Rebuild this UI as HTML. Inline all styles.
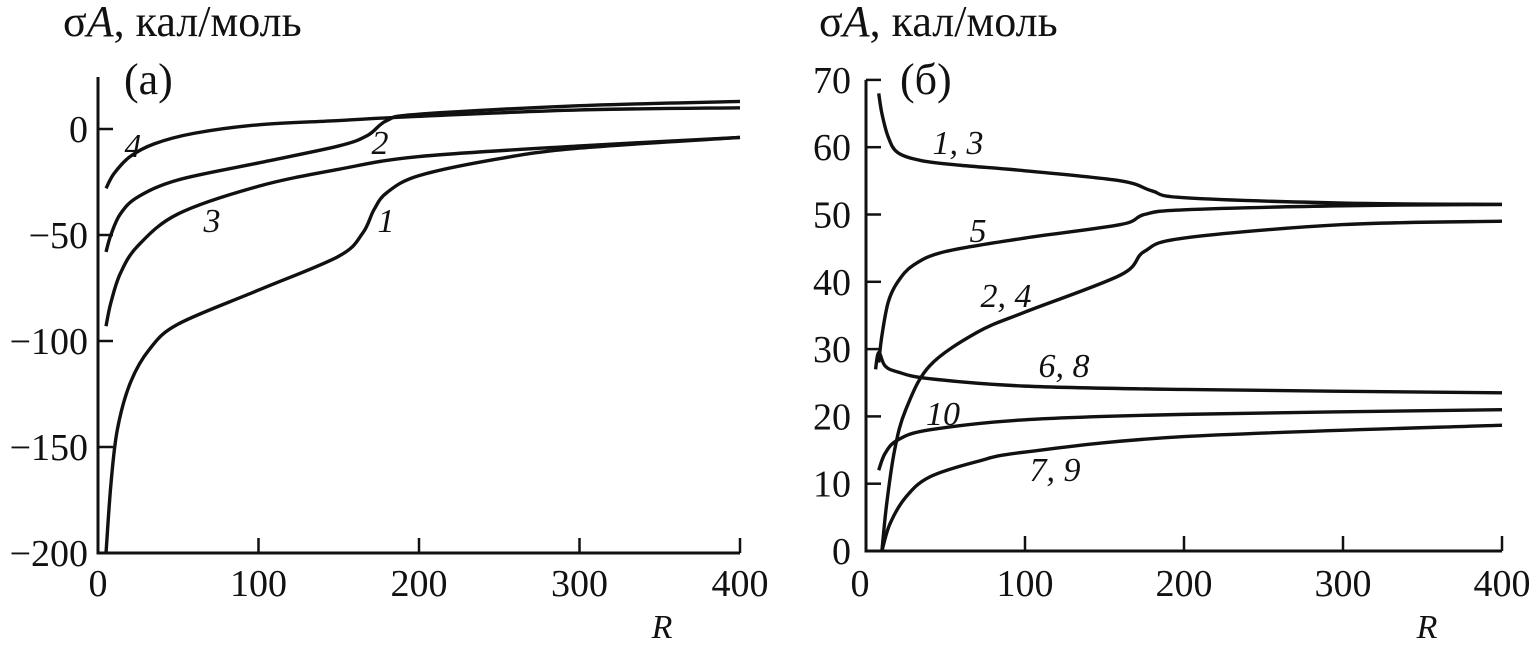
<!DOCTYPE html>
<html><head><meta charset="utf-8"><style>
body{margin:0;background:#fff;}
svg{display:block;}
text{font-family:"Liberation Serif",serif;fill:#111;}
.t{font-size:38px;}
.h{font-size:44px;}
.i{font-style:italic;font-size:34px;}
</style></head><body>
<svg id="c" width="1533" height="645" viewBox="0 0 1533 645" xmlns="http://www.w3.org/2000/svg"></svg>
<script>
// Panel (a) data
const xTicksA = [0,100,200,300,400];
const yTicksA = [0,-50,-100,-150,-200];
const yTickLabelsA = ["0","\u221250","\u2212100","\u2212150","\u2212200"];
const a1R = [5,8,12,20,32,50,100,150,165,172,180,200,250,300,400];
const a1V = [-200,-168,-142,-120,-104,-92,-76,-60,-49,-38,-30,-22,-14,-9,-4];
const a2R = [5,8,14,25,50,100,150,168,180,200,300,400];
const a2V = [-58,-50,-40,-32,-24,-16,-8,-3,4,7,11,13];
const a3R = [5,8,14,25,50,100,150,200,300,400];
const a3V = [-93,-82,-68,-55,-40,-27,-19,-13,-8,-4];
const a4R = [5,10,20,35,60,100,150,200,300,400];
const a4V = [-28,-21,-13,-7,-2,2,4,6,9,10];
// Panel (b) data
const xTicksB = [0,100,200,300,400];
const yTicksB = [0,10,20,30,40,50,60,70];
const b13R = [8,10,14,20,35,60,100,160,180,200,300,400];
const b13V = [68,65,61.5,59.2,58,57.3,56.5,55,53.5,52.5,51.7,51.5];
const b5R = [8,10,14,20,30,50,100,160,175,200,300,400];
const b5V = [28,32,37,40,42.5,44.5,46.5,48.5,50,50.7,51.3,51.5];
const b24R = [10,13,18,25,40,70,100,160,175,200,300,400];
const b24V = [0,7,15,21,27.5,32.5,35.5,41,44.5,46.5,48.5,49];
const b68R = [6,8,12,20,40,100,200,400];
const b68V = [27,29.5,27.5,26.6,25.6,24.5,24,23.5];
const b10R = [8,12,20,40,100,200,400];
const b10V = [12,14.5,16.5,18,19.5,20.3,21];
const b79R = [10,15,25,40,70,100,200,400];
const b79V = [0,4,8,11,13.3,14.7,17,18.7];

const svg=document.getElementById('c');
const NS='http://www.w3.org/2000/svg';
function mk(tag,attrs,parent){const e=document.createElementNS(NS,tag);for(const k in attrs)e.setAttribute(k,attrs[k]);(parent||svg).appendChild(e);return e;}
function txt(s,x,y,cls,anchor,parent){const e=mk('text',{x:x,y:y,class:cls,'text-anchor':anchor||'start'},parent);e.textContent=s;return e;}

const xA=r=>98+r*1.605, yA=v=>129-v*2.12;
const xB=r=>866+r*1.59, yB=v=>551-v*6.73;

function path(R,V,xs,ys){
  const p=R.map((r,i)=>[xs(r),ys(V[i])]);
  let d='M'+p[0][0]+','+p[0][1];
  for(let i=0;i<p.length-1;i++){
    const p0=p[i-1]||p[i],p1=p[i],p2=p[i+1],p3=p[i+2]||p2;
    const c1=[p1[0]+(p2[0]-p0[0])/6,p1[1]+(p2[1]-p0[1])/6];
    const c2=[p2[0]-(p3[0]-p1[0])/6,p2[1]-(p3[1]-p1[1])/6];
    d+=` C${c1[0]},${c1[1]} ${c2[0]},${c2[1]} ${p2[0]},${p2[1]}`;
  }
  return d;
}

const gA=mk('g',{});


const axA=mk('path',{d:`M98,77 L98,${yA(-200)} L${xA(400)},${yA(-200)}`,fill:'none',stroke:'#111','stroke-width':3},gA);


xTicksA.forEach(r=>{
  if(r>0){const t=mk('line',{x1:xA(r),x2:xA(r),y1:yA(-200),y2:yA(-200)-15,stroke:'#111','stroke-width':2.5},gA);
  }
  const l=txt(String(r),xA(r),596,'t','middle',gA);
  
});
yTicksA.forEach((v,i)=>{
  const t=mk('line',{x1:98,x2:113,y1:yA(v),y2:yA(v),stroke:'#111','stroke-width':2.5},gA);
  
  const l=txt(yTickLabelsA[i],88,yA(v)+13,'t','end',gA);
  
});
let e;
e=txt('',63,36,'h','start',gA);e.innerHTML='σ<tspan font-style="italic">A</tspan>, кал/моль';

e=txt('(a)',124,94,'h','start',gA);
e=txt('R',662,638,'i','middle',gA);
[[a1R,a1V,'curve-a-1'],[a2R,a2V,'curve-a-2'],[a3R,a3V,'curve-a-3'],[a4R,a4V,'curve-a-4']].forEach(c=>{
  const p=mk('path',{d:path(c[0],c[1],xA,yA),fill:'none',stroke:'#111','stroke-width':3.4},gA);
  
});
[['4',133,157],['2',380,154],['3',212,232],['1',386,232]].forEach(s=>{
  const l=txt(s[0],s[1],s[2],'i','middle',gA);
  
});

const gB=mk('g',{});


const axB=mk('path',{d:`M${xB(0)},${yB(70)} L${xB(0)},${yB(0)} L${xB(400)},${yB(0)}`,fill:'none',stroke:'#111','stroke-width':3},gB);


xTicksB.forEach(r=>{
  if(r>0){const t=mk('line',{x1:xB(r),x2:xB(r),y1:yB(0),y2:yB(0)-15,stroke:'#111','stroke-width':2.5},gB);
  }
  const l=txt(String(r),xB(r)-(r===0?6:0),596,'t','middle',gB);
  
});
yTicksB.forEach(v=>{
  const t=mk('line',{x1:xB(0),x2:xB(0)+15,y1:yB(v),y2:yB(v),stroke:'#111','stroke-width':2.5},gB);
  
  const l=txt(String(v),851,yB(v)+13,'t','end',gB);
  
});
e=txt('',819,36,'h','start',gB);e.innerHTML='σ<tspan font-style="italic">A</tspan>, кал/моль';

e=txt('(б)',900,94,'h','start',gB);
e=txt('R',1427,638,'i','middle',gB);
[[b13R,b13V,'curve-b-1-3'],[b5R,b5V,'curve-b-5'],[b24R,b24V,'curve-b-2-4'],[b68R,b68V,'curve-b-6-8'],[b10R,b10V,'curve-b-10'],[b79R,b79V,'curve-b-7-9']].forEach(c=>{
  const p=mk('path',{d:path(c[0],c[1],xB,yB),fill:'none',stroke:'#111','stroke-width':3.4},gB);
  
});
[['1, 3',958,154],['5',978,242],['2, 4',1006,307],['6, 8',1064,377],['10',943,425],['7, 9',1055,481]].forEach(s=>{
  const l=txt(s[0],s[1],s[2],'i','middle',gB);
  
});
</script>
</body></html>
